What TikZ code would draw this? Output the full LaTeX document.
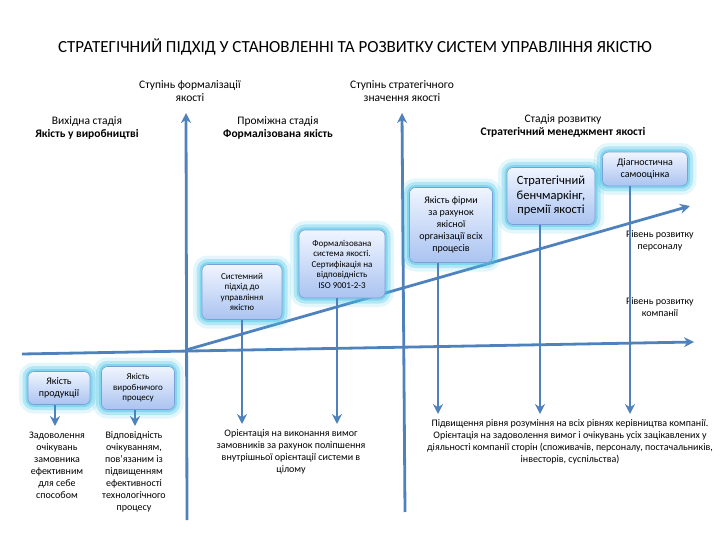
\documentclass[tikz,border=0pt]{standalone}
\usepackage{fontspec}
\setmainfont{Carlito}
\usetikzlibrary{arrows.meta}
\definecolor{ax}{RGB}{79,129,189}
\definecolor{glowc}{RGB}{70,195,230}
\definecolor{boxtop}{RGB}{240,245,255}
\definecolor{boxbot}{RGB}{170,195,240}
\definecolor{boxedge}{RGB}{120,160,215}
\tikzset{
  axis/.style={draw=ax, line width=2.8pt, -{Stealth[length=10pt,width=10pt]}},
  sbox/.style={rounded corners=6pt, draw=boxedge, line width=0.6pt, top color=boxtop, bottom color=boxbot,
    align=center, inner sep=1pt, font=\fontsize{9}{10.5}\selectfont,
    preaction={draw=glowc, line width=18pt, opacity=0.15},
    preaction={draw=glowc, line width=11pt, opacity=0.3},
    preaction={draw=glowc, line width=5pt, opacity=0.45}},
  lbl/.style={align=center, font=\fontsize{11.5}{13.5}\selectfont},
  slbl/.style={align=center, font=\fontsize{10}{12}\selectfont}
}
\begin{document}
\begin{tikzpicture}[x=1pt,y=-1pt]
\useasboundingbox (0,0) rectangle (720,540);
\node[font=\fontsize{17}{19}\selectfont] (title) at (355,47) {СТРАТЕГІЧНИЙ ПІДХІД У СТАНОВЛЕННІ ТА РОЗВИТКУ СИСТЕМ УПРАВЛІННЯ ЯКІСТЮ};

% axes
\coordinate (a1b) at (187,520); \coordinate (a1t) at (186,113);
\coordinate (a2b) at (405,512); \coordinate (a2t) at (402,113);
\coordinate (hl) at (22,354); \coordinate (hr) at (694,342);
\coordinate (dl) at (186,350); \coordinate (dr) at (690,206);
\draw[axis] (a1b) -- (a1t);
\draw[axis] (a2b) -- (a2t);
\draw[axis] (hl) -- (hr);
\draw[axis] (dl) -- (dr);

% labels top
\node[lbl] (s1) at (190,91) {Ступінь формалізації\\якості};
\node[lbl] (s2) at (402,91) {Ступінь стратегічного\\значення якості};
\node[lbl] (st1) at (87,128) {Вихідна стадія\\\textbf{Якість у виробництві}};
\node[lbl] (st2) at (278,128) {Проміжна стадія\\\textbf{Формалізована якість}};
\node[lbl] (st3) at (563,126) {Стадія розвитку\\\textbf{Стратегічний менеджмент якості}};
\node[slbl] (rp) at (660,241) {Рівень розвитку\\персоналу};
\node[slbl] (rk) at (660,307) {Рівень розвитку\\компанії};

% boxes
\node[sbox, minimum width=80pt, minimum height=55pt] (b1) at (242,292) {Системний\\підхід до\\управління\\якістю};
\node[sbox, minimum width=86pt, minimum height=68pt] (b2) at (342,264) {Формалізована\\система якості.\\Сертифікація на\\відповідність\\ISO 9001-2-3};
\node[sbox, minimum width=83pt, minimum height=75pt, font=\fontsize{10}{12}\selectfont] (b3) at (451,225) {Якість фірми\\за рахунок\\якісної\\організації всіх\\процесів};
\node[sbox, minimum width=88pt, minimum height=57pt, font=\fontsize{12.5}{14.5}\selectfont] (b4) at (551,196) {Стратегічний\\бенчмаркінг,\\премії якості};
\node[sbox, minimum width=85pt, minimum height=34pt, font=\fontsize{10}{12}\selectfont] (b5) at (645,169) {Діагностична\\самооцінка};
\node[sbox, minimum width=62pt, minimum height=33pt, font=\fontsize{10}{12}\selectfont] (b6) at (59,388) {Якість\\продукції};
\node[sbox, minimum width=73pt, minimum height=43pt] (b7) at (138,388) {Якість\\виробничого\\процесу};

% down arrows
\coordinate (e1) at (242,424); \coordinate (e2) at (337,424);
\coordinate (e3) at (438,414); \coordinate (e4) at (540,414); \coordinate (e5) at (630,414);
\draw[axis] (b1.south) -- (e1);
\draw[axis] (b2.south -| e2) -- (e2);
\draw[axis] (b3.south -| e3) -- (e3);
\draw[axis] (b4.south -| e4) -- (e4);
\draw[axis] (b5.south -| e5) -- (e5);
\coordinate (e6) at (55,426); \coordinate (e7) at (135,426);
\draw[axis] (b6.south -| e6) -- (e6);
\draw[axis] (b7.south -| e7) -- (e7);

% bottom texts
\node[slbl, anchor=north] (t1) at (57,428) {Задоволення\\очікувань\\замовника\\ефективним\\для себе\\способом};
\node[slbl, anchor=north] (t2) at (134,428) {Відповідність\\очікуванням,\\пов’язаним із\\підвищенням\\ефективності\\технологічного\\процесу};
\node[slbl, anchor=north] (t3) at (291,426) {Орієнтація на виконання вимог\\замовників за рахунок поліпшення\\внутрішньої орієнтації системи в\\цілому};
\node[slbl, anchor=north] (t4) at (570,416) {Підвищення рівня розуміння на всіх рівнях керівництва компанії.\\Орієнтація на задоволення вимог і очікувань усіх зацікавлених у\\діяльності компанії сторін (споживачів, персоналу, постачальників,\\інвесторів, суспільства)};
\end{tikzpicture}
\end{document}
